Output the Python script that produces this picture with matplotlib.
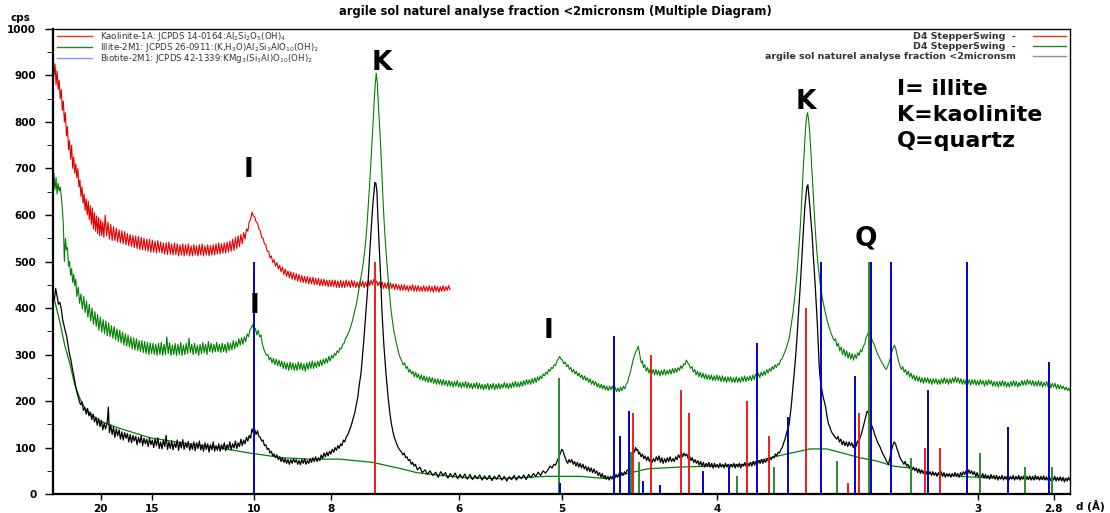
# XRD multiple diagram - argile sol naturel, fraction <2 microns
# x axis is linear in 2theta (Cu Ka), labelled with d-spacings

import numpy as np
import matplotlib.pyplot as plt

plt.rcParams['font.family'] = ['DejaVu Sans']
plt.rcParams['mathtext.default'] = 'regular'

WAVELENGTH = 1.5406  # Cu K-alpha, Angstrom

# ---- data: (2theta deg, cps) ----

# red pattern (stops at ~14.5 deg)
red_pts = [
    (3.03, 940), (3.06, 900), (3.09, 925), (3.12, 880), (3.15, 910), (3.18, 870), (3.21, 890),
    (3.24, 850), (3.27, 870), (3.30, 825), (3.33, 845), (3.36, 800), (3.39, 820), (3.42, 770),
    (3.45, 790), (3.48, 740), (3.51, 760), (3.54, 720), (3.57, 750), (3.60, 700), (3.63, 725),
    (3.66, 690), (3.69, 710), (3.72, 680), (3.75, 700), (3.78, 660), (3.81, 675), (3.84, 640),
    (3.87, 660), (3.90, 625), (3.93, 645), (3.96, 610), (3.99, 635), (4.02, 600), (4.05, 630),
    (4.08, 590), (4.11, 620), (4.14, 580), (4.17, 615), (4.20, 570), (4.23, 605), (4.26, 565),
    (4.29, 598), (4.32, 560), (4.35, 595), (4.38, 555), (4.41, 590), (4.44, 556), (4.47, 585),
    (4.50, 552), (4.54, 600), (4.58, 555), (4.62, 585), (4.66, 548), (4.70, 580), (4.74, 545),
    (4.78, 575), (4.82, 545), (4.86, 572), (4.90, 542), (4.94, 568), (4.98, 540), (5.02, 566),
    (5.06, 538), (5.10, 564), (5.14, 536), (5.18, 560), (5.22, 534), (5.26, 558), (5.30, 532),
    (5.34, 556), (5.38, 530), (5.42, 555), (5.46, 528), (5.50, 554), (5.54, 526), (5.58, 552),
    (5.62, 525), (5.66, 550), (5.70, 524), (5.74, 548), (5.78, 522), (5.82, 548), (5.86, 520),
    (5.90, 546), (5.94, 520), (5.98, 544), (6.02, 518), (6.06, 545), (6.10, 520), (6.14, 542),
    (6.18, 518), (6.22, 540), (6.26, 516), (6.30, 540), (6.34, 515), (6.38, 542), (6.42, 516),
    (6.46, 538), (6.50, 514), (6.54, 540), (6.58, 515), (6.62, 538), (6.66, 512), (6.70, 536),
    (6.74, 514), (6.78, 538), (6.82, 512), (6.86, 536), (6.90, 514), (6.94, 538), (6.98, 512),
    (7.02, 534), (7.06, 512), (7.10, 536), (7.14, 514), (7.18, 534), (7.22, 512), (7.26, 536),
    (7.30, 514), (7.34, 538), (7.38, 512), (7.42, 534), (7.46, 514), (7.50, 536), (7.54, 512),
    (7.58, 534), (7.62, 514), (7.66, 536), (7.70, 514), (7.74, 538), (7.78, 516), (7.82, 540),
    (7.86, 516), (7.90, 538), (7.94, 518), (7.98, 540), (8.02, 518), (8.06, 542), (8.10, 520),
    (8.14, 544), (8.18, 522), (8.22, 548), (8.26, 524), (8.30, 552), (8.34, 528), (8.38, 555),
    (8.42, 532), (8.46, 558), (8.50, 538), (8.54, 562), (8.58, 548), (8.62, 570), (8.66, 565),
    (8.70, 585), (8.74, 590), (8.78, 606), (8.82, 598), (8.86, 596), (8.90, 585), (8.94, 582),
    (8.98, 570), (9.02, 566), (9.06, 552), (9.10, 550), (9.14, 538), (9.18, 536), (9.22, 522),
    (9.26, 522), (9.30, 508), (9.34, 512), (9.38, 498), (9.42, 504), (9.46, 490), (9.50, 498),
    (9.54, 484), (9.58, 492), (9.62, 478), (9.66, 488), (9.70, 472), (9.74, 484), (9.78, 468),
    (9.82, 480), (9.86, 465), (9.90, 478), (9.94, 462), (9.98, 476), (10.02, 460), (10.06, 474),
    (10.10, 458), (10.14, 472), (10.18, 456), (10.22, 470), (10.26, 455), (10.30, 468),
    (10.34, 454), (10.38, 468), (10.42, 452), (10.46, 466), (10.50, 452), (10.54, 466),
    (10.58, 450), (10.62, 464), (10.66, 450), (10.70, 464), (10.74, 448), (10.78, 462),
    (10.82, 448), (10.86, 462), (10.90, 448), (10.94, 460), (10.98, 446), (11.02, 460),
    (11.06, 446), (11.10, 460), (11.14, 446), (11.18, 460), (11.22, 444), (11.26, 458),
    (11.30, 444), (11.34, 460), (11.38, 444), (11.42, 458), (11.46, 444), (11.50, 460),
    (11.54, 446), (11.58, 458), (11.62, 444), (11.66, 460), (11.70, 446), (11.74, 458),
    (11.78, 444), (11.82, 456), (11.86, 444), (11.90, 458), (11.94, 446), (11.98, 458),
    (12.02, 444), (12.06, 456), (12.10, 446), (12.14, 460), (12.18, 448), (12.22, 460),
    (12.26, 450), (12.30, 462), (12.34, 452), (12.38, 458), (12.42, 448), (12.46, 456),
    (12.50, 444), (12.54, 456), (12.58, 442), (12.62, 454), (12.66, 442), (12.70, 454),
    (12.74, 440), (12.78, 454), (12.82, 442), (12.86, 452), (12.90, 440), (12.94, 452),
    (12.98, 440), (13.02, 450), (13.06, 438), (13.10, 450), (13.14, 438), (13.18, 450),
    (13.22, 438), (13.26, 448), (13.30, 436), (13.34, 448), (13.38, 438), (13.42, 450),
    (13.46, 436), (13.50, 448), (13.54, 436), (13.58, 448), (13.62, 436), (13.66, 446),
    (13.70, 436), (13.74, 448), (13.78, 436), (13.82, 446), (13.86, 436), (13.90, 448),
    (13.94, 436), (13.98, 446), (14.02, 434), (14.06, 448), (14.10, 436), (14.14, 446),
    (14.18, 434), (14.22, 446), (14.26, 436), (14.30, 448), (14.34, 436), (14.38, 446),
    (14.42, 438), (14.46, 448), (14.50, 440),
]

# green pattern (offset run)
green_pts = [
    (3.03, 620), (3.06, 690), (3.09, 655), (3.12, 680), (3.15, 645), (3.18, 668), (3.21, 652),
    (3.24, 660), (3.27, 640), (3.30, 615), (3.33, 580), (3.36, 500), (3.39, 550), (3.42, 525),
    (3.45, 530), (3.48, 490), (3.51, 500), (3.54, 470), (3.57, 485), (3.60, 455), (3.63, 472),
    (3.66, 448), (3.69, 462), (3.72, 425), (3.76, 445), (3.80, 410), (3.84, 430), (3.88, 398),
    (3.92, 425), (3.96, 390), (4.00, 415), (4.04, 380), (4.08, 408), (4.12, 372), (4.16, 400),
    (4.20, 365), (4.24, 392), (4.28, 360), (4.32, 386), (4.36, 352), (4.40, 380), (4.44, 348),
    (4.48, 375), (4.52, 345), (4.56, 372), (4.60, 340), (4.64, 368), (4.68, 338), (4.72, 362),
    (4.76, 335), (4.80, 360), (4.84, 332), (4.88, 355), (4.92, 328), (4.96, 352), (5.00, 325),
    (5.04, 348), (5.08, 320), (5.12, 345), (5.16, 318), (5.20, 342), (5.24, 316), (5.28, 338),
    (5.32, 312), (5.36, 336), (5.40, 310), (5.44, 334), (5.48, 308), (5.52, 330), (5.56, 306),
    (5.60, 330), (5.64, 304), (5.68, 328), (5.72, 302), (5.76, 326), (5.80, 300), (5.84, 325),
    (5.88, 302), (5.92, 324), (5.96, 300), (6.00, 322), (6.04, 298), (6.08, 324), (6.12, 300),
    (6.16, 326), (6.20, 298), (6.24, 322), (6.28, 300), (6.32, 338), (6.36, 302), (6.40, 325),
    (6.44, 298), (6.48, 320), (6.52, 300), (6.56, 324), (6.60, 298), (6.64, 322), (6.68, 300),
    (6.72, 326), (6.76, 298), (6.80, 320), (6.84, 300), (6.88, 324), (6.92, 302), (6.96, 335),
    (7.00, 304), (7.04, 322), (7.08, 300), (7.12, 324), (7.16, 302), (7.20, 320), (7.24, 298),
    (7.28, 322), (7.32, 302), (7.36, 326), (7.40, 304), (7.44, 322), (7.48, 300), (7.52, 328),
    (7.56, 306), (7.60, 324), (7.64, 304), (7.68, 322), (7.72, 306), (7.76, 326), (7.80, 306),
    (7.84, 322), (7.88, 304), (7.92, 324), (7.96, 306), (8.00, 322), (8.04, 304), (8.08, 326),
    (8.12, 308), (8.16, 324), (8.20, 310), (8.24, 330), (8.28, 312), (8.32, 328), (8.36, 316),
    (8.40, 334), (8.44, 320), (8.48, 336), (8.52, 322), (8.56, 338), (8.60, 328), (8.64, 344),
    (8.68, 338), (8.72, 352), (8.76, 358), (8.80, 364), (8.84, 350), (8.88, 356), (8.92, 342),
    (8.96, 352), (9.00, 338), (9.04, 342), (9.08, 322), (9.12, 312), (9.16, 304), (9.20, 298),
    (9.24, 300), (9.28, 288), (9.32, 294), (9.36, 282), (9.40, 292), (9.44, 278), (9.48, 290),
    (9.52, 276), (9.56, 288), (9.60, 274), (9.64, 286), (9.68, 270), (9.72, 284), (9.76, 268),
    (9.80, 282), (9.84, 266), (9.88, 284), (9.92, 268), (9.96, 282), (10.00, 266),
    (10.04, 280), (10.08, 266), (10.12, 284), (10.16, 268), (10.20, 282), (10.24, 266),
    (10.28, 280), (10.32, 264), (10.36, 282), (10.40, 268), (10.44, 284), (10.48, 270),
    (10.52, 286), (10.56, 270), (10.60, 284), (10.64, 272), (10.68, 286), (10.72, 274),
    (10.76, 288), (10.80, 276), (10.84, 290), (10.88, 280), (10.92, 292), (10.96, 282),
    (11.00, 296), (11.04, 286), (11.08, 298), (11.12, 292), (11.16, 302), (11.20, 298),
    (11.24, 308), (11.28, 304), (11.32, 314), (11.36, 312), (11.40, 322), (11.44, 324),
    (11.48, 334), (11.52, 338), (11.56, 346), (11.60, 352), (11.64, 362), (11.68, 372),
    (11.72, 385), (11.76, 398), (11.80, 410), (11.84, 428), (11.88, 445), (11.92, 462),
    (11.96, 480), (12.00, 500), (12.04, 525), (12.07, 548), (12.10, 575), (12.13, 610),
    (12.16, 645), (12.19, 680), (12.22, 720), (12.25, 760), (12.28, 800), (12.31, 845),
    (12.34, 880), (12.37, 905), (12.40, 885), (12.43, 840), (12.46, 800), (12.49, 760),
    (12.52, 710), (12.55, 660), (12.58, 610), (12.61, 570), (12.64, 535), (12.67, 505),
    (12.70, 475), (12.73, 450), (12.76, 425), (12.79, 400), (12.82, 382), (12.85, 365),
    (12.88, 350), (12.91, 340), (12.95, 325), (12.99, 312), (13.03, 300), (13.07, 292),
    (13.11, 285), (13.15, 278), (13.19, 282), (13.23, 270), (13.27, 274), (13.31, 262),
    (13.35, 268), (13.39, 258), (13.43, 264), (13.47, 252), (13.51, 262), (13.55, 250),
    (13.59, 258), (13.63, 246), (13.67, 256), (13.71, 244), (13.75, 254), (13.79, 242),
    (13.83, 252), (13.87, 240), (13.91, 252), (13.95, 240), (13.99, 250), (14.03, 238),
    (14.07, 248), (14.11, 236), (14.15, 248), (14.19, 236), (14.23, 246), (14.27, 234),
    (14.31, 246), (14.35, 234), (14.39, 244), (14.43, 232), (14.47, 244), (14.51, 232),
    (14.55, 242), (14.59, 230), (14.63, 242), (14.67, 232), (14.71, 244), (14.75, 230),
    (14.79, 240), (14.83, 228), (14.87, 240), (14.91, 230), (14.95, 242), (14.99, 228),
    (15.03, 240), (15.07, 228), (15.11, 238), (15.15, 226), (15.19, 238), (15.23, 228),
    (15.27, 240), (15.31, 226), (15.35, 238), (15.39, 226), (15.43, 236), (15.47, 224),
    (15.51, 236), (15.55, 226), (15.59, 238), (15.63, 224), (15.67, 236), (15.71, 226),
    (15.75, 238), (15.79, 224), (15.83, 236), (15.87, 226), (15.91, 238), (15.95, 226),
    (15.99, 236), (16.03, 228), (16.07, 240), (16.11, 228), (16.15, 238), (16.19, 226),
    (16.23, 238), (16.27, 228), (16.31, 240), (16.35, 230), (16.39, 242), (16.43, 230),
    (16.47, 240), (16.51, 230), (16.55, 242), (16.59, 232), (16.63, 244), (16.67, 234),
    (16.71, 246), (16.75, 236), (16.79, 246), (16.83, 236), (16.87, 248), (16.91, 238),
    (16.95, 250), (16.99, 240), (17.03, 252), (17.07, 244), (17.11, 254), (17.15, 248),
    (17.19, 258), (17.23, 254), (17.27, 262), (17.31, 258), (17.35, 268), (17.39, 264),
    (17.43, 272), (17.47, 270), (17.51, 278), (17.55, 276), (17.59, 286), (17.63, 290),
    (17.67, 296), (17.71, 290), (17.75, 288), (17.79, 280), (17.83, 284), (17.87, 274),
    (17.91, 278), (17.95, 268), (17.99, 272), (18.03, 262), (18.07, 268), (18.11, 258),
    (18.15, 264), (18.19, 254), (18.23, 260), (18.27, 250), (18.31, 256), (18.35, 246),
    (18.39, 254), (18.43, 244), (18.47, 250), (18.51, 240), (18.55, 248), (18.59, 236),
    (18.63, 244), (18.67, 234), (18.71, 242), (18.75, 230), (18.79, 238), (18.83, 228),
    (18.87, 236), (18.91, 226), (18.95, 234), (18.99, 224), (19.03, 232), (19.07, 222),
    (19.11, 232), (19.15, 224), (19.19, 232), (19.23, 222), (19.27, 230), (19.31, 220),
    (19.35, 228), (19.39, 220), (19.43, 230), (19.47, 222), (19.51, 232), (19.55, 226),
    (19.59, 236), (19.63, 240), (19.67, 252), (19.71, 262), (19.75, 275), (19.79, 288),
    (19.83, 298), (19.87, 306), (19.91, 312), (19.94, 318), (19.97, 305), (20.00, 292),
    (20.03, 282), (20.06, 286), (20.09, 272), (20.13, 278), (20.17, 264), (20.21, 272),
    (20.25, 260), (20.29, 270), (20.33, 258), (20.37, 268), (20.41, 256), (20.45, 268),
    (20.49, 256), (20.53, 266), (20.57, 254), (20.61, 266), (20.65, 256), (20.69, 268),
    (20.73, 256), (20.77, 266), (20.81, 258), (20.85, 268), (20.89, 258), (20.93, 270),
    (20.97, 260), (21.01, 270), (21.05, 262), (21.09, 272), (21.13, 266), (21.17, 276),
    (21.21, 270), (21.25, 280), (21.29, 278), (21.33, 288), (21.37, 282), (21.41, 278),
    (21.45, 270), (21.49, 274), (21.53, 262), (21.57, 268), (21.61, 256), (21.65, 264),
    (21.69, 252), (21.73, 262), (21.77, 250), (21.81, 260), (21.85, 248), (21.89, 258),
    (21.93, 246), (21.97, 256), (22.01, 246), (22.05, 256), (22.09, 244), (22.13, 254),
    (22.17, 244), (22.21, 256), (22.25, 244), (22.29, 254), (22.33, 242), (22.37, 254),
    (22.41, 242), (22.45, 252), (22.49, 240), (22.53, 252), (22.57, 242), (22.61, 252),
    (22.65, 240), (22.69, 250), (22.73, 240), (22.77, 252), (22.81, 240), (22.85, 250),
    (22.89, 240), (22.93, 252), (22.97, 242), (23.01, 254), (23.05, 242), (23.09, 252),
    (23.13, 244), (23.17, 254), (23.21, 244), (23.25, 256), (23.29, 246), (23.33, 258),
    (23.37, 248), (23.41, 260), (23.45, 250), (23.49, 262), (23.53, 254), (23.57, 264),
    (23.61, 256), (23.65, 268), (23.69, 260), (23.73, 270), (23.77, 264), (23.81, 274),
    (23.85, 268), (23.89, 278), (23.93, 272), (23.97, 280), (24.01, 278), (24.05, 288),
    (24.09, 290), (24.13, 298), (24.17, 305), (24.21, 312), (24.25, 322), (24.29, 332),
    (24.32, 345), (24.35, 360), (24.38, 375), (24.41, 390), (24.44, 410), (24.47, 430),
    (24.50, 455), (24.53, 480), (24.56, 510), (24.59, 540), (24.62, 575), (24.65, 615),
    (24.68, 660), (24.71, 705), (24.74, 745), (24.77, 785), (24.80, 810), (24.83, 820),
    (24.86, 805), (24.89, 780), (24.92, 745), (24.95, 705), (24.98, 665), (25.01, 625),
    (25.04, 585), (25.07, 550), (25.10, 520), (25.13, 495), (25.16, 475), (25.19, 455),
    (25.22, 440), (25.25, 425), (25.28, 412), (25.32, 398), (25.36, 385), (25.40, 372),
    (25.44, 362), (25.48, 352), (25.52, 344), (25.56, 336), (25.60, 330), (25.64, 334),
    (25.68, 318), (25.72, 324), (25.76, 308), (25.80, 316), (25.84, 300), (25.88, 312),
    (25.92, 296), (25.96, 308), (26.00, 292), (26.04, 304), (26.08, 290), (26.12, 302),
    (26.16, 288), (26.20, 300), (26.24, 292), (26.28, 304), (26.32, 298), (26.36, 310),
    (26.40, 306), (26.44, 318), (26.48, 322), (26.52, 336), (26.56, 342), (26.60, 350),
    (26.63, 346), (26.66, 338), (26.70, 330), (26.74, 324), (26.78, 316), (26.82, 308),
    (26.86, 300), (26.90, 294), (26.94, 288), (26.98, 282), (27.02, 278), (27.06, 272),
    (27.10, 268), (27.14, 274), (27.18, 282), (27.22, 292), (27.26, 304), (27.30, 314),
    (27.34, 320), (27.38, 312), (27.42, 298), (27.46, 286), (27.50, 276), (27.54, 268),
    (27.58, 274), (27.62, 262), (27.66, 268), (27.70, 256), (27.74, 264), (27.78, 252),
    (27.82, 260), (27.86, 248), (27.90, 256), (27.94, 244), (27.98, 254), (28.02, 242),
    (28.06, 252), (28.10, 240), (28.14, 250), (28.18, 238), (28.22, 250), (28.26, 240),
    (28.30, 250), (28.34, 238), (28.38, 248), (28.42, 236), (28.46, 248), (28.50, 238),
    (28.54, 248), (28.58, 236), (28.62, 246), (28.66, 236), (28.70, 248), (28.74, 238),
    (28.78, 250), (28.82, 238), (28.86, 248), (28.90, 236), (28.94, 248), (28.98, 238),
    (29.02, 250), (29.06, 240), (29.10, 252), (29.14, 240), (29.18, 250), (29.22, 238),
    (29.26, 248), (29.30, 236), (29.34, 246), (29.38, 236), (29.42, 248), (29.46, 236),
    (29.50, 246), (29.54, 234), (29.58, 246), (29.62, 236), (29.66, 246), (29.70, 234),
    (29.74, 244), (29.78, 234), (29.82, 246), (29.86, 236), (29.90, 244), (29.94, 232),
    (29.98, 244), (30.02, 234), (30.06, 246), (30.10, 236), (30.14, 244), (30.18, 232),
    (30.22, 242), (30.26, 232), (30.30, 242), (30.34, 230), (30.38, 242), (30.42, 232),
    (30.46, 244), (30.50, 232), (30.54, 242), (30.58, 230), (30.62, 240), (30.66, 230),
    (30.70, 242), (30.74, 232), (30.78, 244), (30.82, 232), (30.86, 242), (30.90, 230),
    (30.94, 240), (30.98, 232), (31.02, 244), (31.06, 234), (31.10, 244), (31.14, 234),
    (31.18, 246), (31.22, 236), (31.26, 244), (31.30, 234), (31.34, 244), (31.38, 232),
    (31.42, 242), (31.46, 232), (31.50, 244), (31.54, 232), (31.58, 242), (31.62, 230),
    (31.66, 240), (31.70, 232), (31.74, 242), (31.78, 230), (31.82, 240), (31.86, 228),
    (31.90, 238), (31.94, 230), (31.98, 238), (32.02, 226), (32.06, 236), (32.10, 226),
    (32.14, 234), (32.18, 226), (32.22, 232), (32.26, 224), (32.30, 230), (32.34, 222),
    (32.38, 228), (32.41, 222),
]

# black pattern: argile sol naturel analyse fraction <2micronsm
sample_pts = [
    (3.03, 430), (3.07, 418), (3.11, 442), (3.15, 425), (3.19, 408), (3.23, 412), (3.27, 398),
    (3.31, 375), (3.35, 362), (3.39, 350), (3.43, 338), (3.47, 318), (3.51, 300), (3.55, 288),
    (3.59, 270), (3.63, 255), (3.67, 238), (3.71, 222), (3.75, 212), (3.79, 200), (3.83, 192),
    (3.87, 198), (3.91, 180), (3.95, 186), (3.99, 172), (4.03, 184), (4.07, 168), (4.11, 176),
    (4.15, 160), (4.19, 172), (4.23, 155), (4.27, 165), (4.31, 148), (4.35, 162), (4.39, 145),
    (4.43, 158), (4.47, 138), (4.51, 152), (4.55, 140), (4.60, 155), (4.63, 187), (4.66, 132),
    (4.70, 148), (4.74, 128), (4.78, 144), (4.82, 122), (4.86, 140), (4.90, 125), (4.94, 138),
    (4.98, 118), (5.02, 134), (5.06, 116), (5.10, 132), (5.14, 120), (5.18, 130), (5.22, 112),
    (5.26, 128), (5.30, 110), (5.34, 126), (5.38, 114), (5.42, 124), (5.46, 106), (5.50, 122),
    (5.54, 110), (5.58, 125), (5.62, 104), (5.66, 120), (5.70, 108), (5.74, 118), (5.78, 102),
    (5.82, 120), (5.86, 106), (5.90, 116), (5.94, 100), (5.98, 118), (6.02, 104), (6.06, 121),
    (6.10, 98), (6.14, 112), (6.18, 97), (6.22, 116), (6.26, 102), (6.30, 126), (6.34, 96),
    (6.38, 112), (6.42, 98), (6.46, 114), (6.50, 95), (6.54, 110), (6.58, 100), (6.62, 116),
    (6.66, 94), (6.70, 112), (6.74, 99), (6.78, 117), (6.82, 96), (6.86, 110), (6.90, 100),
    (6.94, 113), (6.98, 94), (7.02, 108), (7.06, 96), (7.10, 112), (7.14, 93), (7.18, 110),
    (7.22, 98), (7.26, 114), (7.30, 95), (7.34, 106), (7.38, 92), (7.42, 110), (7.46, 96),
    (7.50, 108), (7.54, 90), (7.58, 106), (7.62, 95), (7.66, 112), (7.70, 92), (7.74, 104),
    (7.78, 94), (7.82, 108), (7.86, 92), (7.90, 106), (7.94, 96), (7.98, 110), (8.02, 93),
    (8.06, 106), (8.10, 97), (8.14, 112), (8.18, 95), (8.22, 108), (8.26, 99), (8.30, 114),
    (8.34, 98), (8.38, 110), (8.42, 102), (8.46, 118), (8.50, 104), (8.54, 116), (8.58, 108),
    (8.62, 122), (8.66, 114), (8.70, 126), (8.74, 120), (8.78, 140), (8.82, 132), (8.86, 138),
    (8.90, 128), (8.94, 136), (8.98, 124), (9.02, 122), (9.06, 114), (9.10, 116), (9.14, 104),
    (9.18, 106), (9.22, 96), (9.26, 98), (9.30, 88), (9.34, 92), (9.38, 82), (9.42, 86),
    (9.46, 78), (9.50, 84), (9.54, 74), (9.58, 80), (9.62, 70), (9.66, 78), (9.70, 68),
    (9.74, 76), (9.78, 66), (9.82, 74), (9.86, 64), (9.90, 74), (9.94, 66), (9.98, 76),
    (10.02, 68), (10.06, 74), (10.10, 64), (10.14, 72), (10.18, 63), (10.22, 74), (10.26, 66),
    (10.30, 76), (10.34, 64), (10.38, 72), (10.42, 66), (10.46, 76), (10.50, 68), (10.54, 78),
    (10.58, 70), (10.62, 80), (10.66, 70), (10.70, 78), (10.74, 72), (10.78, 84), (10.82, 76),
    (10.86, 88), (10.90, 80), (10.94, 90), (10.98, 82), (11.02, 92), (11.06, 86), (11.10, 96),
    (11.14, 90), (11.18, 100), (11.22, 94), (11.26, 104), (11.30, 98), (11.34, 108),
    (11.38, 104), (11.42, 116), (11.46, 112), (11.50, 122), (11.55, 128), (11.60, 138),
    (11.65, 148), (11.70, 162), (11.75, 175), (11.80, 195), (11.84, 210), (11.88, 235),
    (11.93, 260), (11.97, 295), (12.01, 330), (12.04, 360), (12.07, 390), (12.10, 420),
    (12.13, 450), (12.16, 490), (12.19, 530), (12.22, 565), (12.25, 600), (12.28, 630),
    (12.31, 655), (12.33, 670), (12.36, 668), (12.39, 650), (12.42, 590), (12.45, 540),
    (12.48, 490), (12.51, 445), (12.53, 400), (12.56, 360), (12.59, 320), (12.62, 290),
    (12.65, 260), (12.68, 235), (12.71, 210), (12.74, 190), (12.77, 170), (12.81, 150),
    (12.85, 135), (12.89, 122), (12.94, 112), (12.98, 104), (13.02, 98), (13.06, 94),
    (13.10, 90), (13.14, 84), (13.18, 88), (13.22, 78), (13.26, 80), (13.30, 72), (13.34, 74),
    (13.38, 64), (13.42, 68), (13.46, 60), (13.50, 64), (13.56, 52), (13.63, 58), (13.70, 46),
    (13.78, 52), (13.85, 42), (13.92, 50), (14.00, 40), (14.09, 47), (14.16, 36), (14.23, 48),
    (14.30, 40), (14.37, 46), (14.44, 34), (14.51, 44), (14.58, 36), (14.65, 45), (14.72, 33),
    (14.79, 42), (14.86, 34), (14.93, 43), (15.00, 32), (15.08, 42), (15.15, 31), (15.22, 40),
    (15.29, 33), (15.36, 41), (15.43, 30), (15.50, 39), (15.57, 31), (15.64, 40), (15.71, 29),
    (15.78, 38), (15.85, 32), (15.92, 41), (16.00, 30), (16.07, 38), (16.14, 28), (16.21, 37),
    (16.28, 31), (16.35, 40), (16.42, 30), (16.49, 39), (16.56, 33), (16.63, 41), (16.70, 31),
    (16.77, 42), (16.84, 35), (16.91, 44), (16.98, 38), (17.05, 47), (17.12, 40), (17.19, 50),
    (17.26, 45), (17.33, 52), (17.39, 60), (17.45, 56), (17.50, 64), (17.55, 62), (17.60, 72),
    (17.65, 80), (17.70, 90), (17.73, 96), (17.76, 94), (17.79, 86), (17.82, 80), (17.86, 72),
    (17.90, 66), (17.94, 74), (17.98, 68), (18.02, 74), (18.06, 64), (18.10, 70), (18.14, 60),
    (18.18, 68), (18.22, 58), (18.26, 66), (18.30, 56), (18.34, 64), (18.38, 54), (18.42, 60),
    (18.46, 50), (18.50, 58), (18.54, 48), (18.58, 56), (18.62, 46), (18.66, 54), (18.70, 44),
    (18.74, 50), (18.78, 40), (18.82, 46), (18.86, 36), (18.90, 44), (18.94, 34), (18.98, 40),
    (19.02, 32), (19.06, 38), (19.10, 30), (19.14, 38), (19.18, 32), (19.22, 40), (19.26, 34),
    (19.30, 42), (19.34, 36), (19.38, 44), (19.42, 38), (19.46, 46), (19.50, 40), (19.54, 48),
    (19.58, 44), (19.62, 52), (19.66, 50), (19.70, 60), (19.74, 72), (19.77, 86), (19.80, 95),
    (19.83, 90), (19.86, 100), (19.89, 94), (19.92, 96), (19.95, 86), (19.98, 90), (20.02, 80),
    (20.06, 86), (20.10, 76), (20.14, 82), (20.18, 72), (20.22, 80), (20.26, 70), (20.30, 78),
    (20.34, 68), (20.38, 76), (20.42, 70), (20.46, 80), (20.50, 72), (20.54, 82), (20.58, 68),
    (20.62, 78), (20.66, 66), (20.70, 76), (20.74, 68), (20.78, 78), (20.82, 70), (20.86, 80),
    (20.90, 70), (20.94, 76), (20.98, 70), (21.02, 80), (21.06, 74), (21.10, 84), (21.14, 78),
    (21.18, 90), (21.22, 80), (21.26, 88), (21.30, 82), (21.34, 86), (21.38, 76), (21.42, 82),
    (21.46, 72), (21.50, 78), (21.54, 68), (21.58, 74), (21.62, 66), (21.66, 72), (21.70, 62),
    (21.74, 70), (21.78, 60), (21.82, 68), (21.86, 58), (21.90, 66), (21.94, 60), (21.98, 68),
    (22.02, 58), (22.06, 66), (22.10, 56), (22.14, 66), (22.18, 58), (22.22, 64), (22.26, 56),
    (22.30, 66), (22.34, 58), (22.38, 64), (22.42, 56), (22.46, 66), (22.50, 58), (22.54, 64),
    (22.58, 56), (22.62, 64), (22.66, 58), (22.70, 66), (22.74, 56), (22.78, 64), (22.82, 58),
    (22.86, 66), (22.90, 56), (22.94, 64), (22.98, 60), (23.02, 68), (23.06, 58), (23.10, 66),
    (23.14, 60), (23.18, 68), (23.22, 60), (23.26, 70), (23.30, 62), (23.34, 70), (23.38, 64),
    (23.42, 72), (23.46, 66), (23.50, 74), (23.54, 66), (23.58, 74), (23.62, 68), (23.66, 76),
    (23.70, 70), (23.74, 78), (23.78, 74), (23.82, 80), (23.86, 78), (23.90, 86), (23.94, 82),
    (23.98, 90), (24.02, 88), (24.06, 96), (24.10, 100), (24.14, 110), (24.18, 118),
    (24.22, 130), (24.26, 140), (24.30, 150), (24.33, 170), (24.36, 190), (24.39, 215),
    (24.42, 240), (24.45, 265), (24.48, 290), (24.51, 320), (24.54, 355), (24.57, 390),
    (24.60, 425), (24.63, 460), (24.66, 500), (24.69, 540), (24.72, 580), (24.75, 615),
    (24.78, 640), (24.81, 660), (24.84, 665), (24.87, 640), (24.90, 615), (24.93, 585),
    (24.96, 560), (24.99, 520), (25.02, 485), (25.05, 450), (25.08, 410), (25.11, 370),
    (25.14, 320), (25.17, 270), (25.20, 245), (25.23, 230), (25.27, 212), (25.31, 200),
    (25.35, 188), (25.39, 168), (25.43, 152), (25.47, 145), (25.51, 136), (25.55, 130),
    (25.59, 126), (25.63, 122), (25.67, 118), (25.71, 124), (25.75, 112), (25.79, 118),
    (25.83, 106), (25.87, 114), (25.91, 104), (25.95, 112), (25.99, 102), (26.03, 112),
    (26.07, 104), (26.11, 110), (26.15, 100), (26.19, 108), (26.23, 102), (26.27, 114),
    (26.31, 110), (26.35, 122), (26.39, 130), (26.43, 142), (26.47, 154), (26.51, 166),
    (26.55, 178), (26.58, 176), (26.61, 170), (26.64, 160), (26.67, 150), (26.70, 144),
    (26.73, 138), (26.77, 128), (26.81, 120), (26.85, 112), (26.89, 106), (26.93, 100),
    (26.97, 92), (27.01, 86), (27.05, 80), (27.09, 74), (27.13, 68), (27.17, 64), (27.21, 78),
    (27.25, 92), (27.29, 104), (27.33, 112), (27.37, 108), (27.41, 98), (27.45, 90),
    (27.49, 80), (27.53, 74), (27.57, 70), (27.61, 64), (27.65, 70), (27.69, 60), (27.73, 64),
    (27.77, 56), (27.81, 62), (27.85, 52), (27.89, 58), (27.93, 50), (27.97, 56), (28.01, 46),
    (28.05, 54), (28.09, 44), (28.13, 52), (28.17, 44), (28.21, 50), (28.25, 42), (28.29, 50),
    (28.33, 42), (28.37, 48), (28.41, 40), (28.45, 48), (28.49, 40), (28.53, 46), (28.57, 38),
    (28.61, 46), (28.65, 40), (28.69, 48), (28.73, 38), (28.77, 46), (28.81, 36), (28.85, 44),
    (28.89, 38), (28.93, 44), (28.97, 36), (29.01, 44), (29.05, 38), (29.09, 46), (29.13, 38),
    (29.17, 44), (29.21, 36), (29.25, 46), (29.29, 40), (29.33, 48), (29.37, 42), (29.41, 50),
    (29.45, 42), (29.49, 52), (29.53, 44), (29.57, 50), (29.61, 42), (29.65, 48), (29.69, 38),
    (29.73, 46), (29.77, 36), (29.81, 44), (29.85, 36), (29.89, 44), (29.93, 34), (29.97, 42),
    (30.01, 34), (30.05, 40), (30.09, 32), (30.13, 42), (30.17, 34), (30.21, 40), (30.25, 32),
    (30.29, 40), (30.33, 30), (30.37, 38), (30.41, 32), (30.45, 40), (30.49, 30), (30.53, 38),
    (30.57, 32), (30.61, 40), (30.65, 30), (30.69, 38), (30.73, 32), (30.77, 40), (30.81, 30),
    (30.85, 38), (30.89, 32), (30.93, 40), (30.97, 30), (31.01, 38), (31.05, 32), (31.09, 40),
    (31.13, 30), (31.17, 38), (31.21, 31), (31.25, 39), (31.29, 30), (31.33, 38), (31.37, 30),
    (31.41, 40), (31.45, 32), (31.49, 38), (31.53, 30), (31.57, 38), (31.61, 31), (31.65, 39),
    (31.69, 30), (31.73, 37), (31.77, 30), (31.81, 38), (31.85, 29), (31.89, 37), (31.93, 30),
    (31.97, 38), (32.01, 28), (32.05, 36), (32.09, 29), (32.13, 37), (32.17, 28), (32.21, 36),
    (32.25, 26), (32.29, 34), (32.33, 28), (32.37, 36), (32.41, 30),
]

# fitted background under the black pattern
bg_pts = [
    (3.03, 431), (3.23, 370), (3.37, 320), (3.52, 280), (3.66, 235), (3.81, 205), (3.95, 185),
    (4.15, 170), (4.39, 157), (4.88, 143), (5.83, 121), (6.78, 110), (7.77, 100), (8.72, 88),
    (9.67, 78), (10.45, 75), (11.32, 75), (12.27, 68), (13.05, 55), (13.54, 46), (14.21, 40),
    (14.99, 35), (15.94, 33), (17.30, 38), (18.25, 38), (19.03, 33), (19.41, 40), (20.19, 54),
    (21.14, 58), (22.10, 60), (23.08, 64), (23.74, 78), (24.23, 86), (24.90, 97), (25.39, 97),
    (25.85, 88), (26.34, 78), (26.83, 71), (27.30, 60), (27.79, 56), (28.45, 43), (29.43, 37),
    (30.39, 34), (32.41, 32),
]

# reference stick patterns (2theta, cps)
kaolinite_tt = [12.33, 19.78, 20.30, 21.16, 21.41, 23.07, 23.71, 24.79, 25.99,
                26.32, 28.21, 28.66]
kaolinite_h = [500, 175, 300, 224, 175, 200, 125, 400, 24, 175, 99, 99]

illite_tt = [17.65, 19.74, 19.95, 22.79, 23.85, 25.68, 26.60, 27.82, 29.81,
             31.11, 31.89]
illite_h = [250, 90, 68, 39, 58, 70, 500, 78, 88, 58, 58]

biotite_tt = [8.84, 17.68, 19.24, 19.41, 19.67, 20.08, 20.57, 21.81, 22.56,
              23.37, 24.26, 25.21, 26.20, 26.65, 27.23, 28.32, 29.45, 30.63,
              31.81]
biotite_h = [500, 23, 340, 125, 179, 28, 19, 50, 58, 325, 165, 500, 254, 500,
             500, 224, 500, 144, 284]

d_ticks = [20, 15, 10, 8, 6, 5, 4, 3, 2.8]
d_labels = ['20', '15', '10', '8', '6', '5', '4', '3', '2.8']

legend_refs = [
    ('Kaolinite-1A: JCPDS 14-0164:Al$_2$Si$_2$O$_5$(OH)$_4$', '#e83030'),
    ('Illite-2M1: JCPDS 26-0911:(K,H$_3$O)Al$_2$Si$_3$AlO$_{10}$(OH)$_2$', '#1a8c1a'),
    ('Biotite-2M1: JCPDS 42-1339:KMg$_3$(Si$_3$Al)O$_{10}$(OH)$_2$', '#8c8cff'),
]
legend_runs = [
    ('D4 StepperSwing  -', '#e83030'),
    ('D4 StepperSwing  -', '#1a8c1a'),
    ('argile sol naturel analyse fraction <2micronsm', '#909090'),
]


def d_to_2theta(d):
    return 2 * np.degrees(np.arcsin(WAVELENGTH / (2 * np.asarray(d, dtype=float))))


def unzip(pts):
    tt, cps = zip(*pts)
    return list(tt), list(cps)


fig = plt.figure(figsize=(11.1, 5.13), dpi=100)
ax = fig.add_axes([0.0477, 0.037, 0.9162, 0.9065])

# patterns
ax.plot(*unzip(red_pts), color='#e00000', lw=0.8)
ax.plot(*unzip(green_pts), color='#008000', lw=0.8)
ax.plot(*unzip(bg_pts), color='#008000', lw=0.9)
ax.plot(*unzip(sample_pts), color='black', lw=0.9)

# reference sticks
ax.vlines(kaolinite_tt, 0, kaolinite_h, colors='#ee1c1c', lw=1.4)
ax.vlines(illite_tt, 0, illite_h, colors='#2e8b2e', lw=1.4)
ax.vlines(biotite_tt, 0, biotite_h, colors='#0000cc', lw=1.4)

# axes
ax.set_xlim(3.03, 32.41)
ax.set_ylim(0, 1000)
ax.set_xticks(d_to_2theta(d_ticks))
ax.set_xticklabels(d_labels)
ax.set_yticks(np.arange(0, 1001, 100))
ax.set_yticks(np.arange(50, 1000, 100), minor=True)
ax.tick_params(axis='both', labelsize=7.5, width=1, direction='out')
ax.tick_params(axis='y', length=6, pad=6)
ax.tick_params(axis='y', which='minor', length=4)
ax.tick_params(axis='x', length=4, pad=3)
for lab in ax.get_xticklabels() + ax.get_yticklabels():
    lab.set_fontweight('bold')
for side in ['left', 'bottom']:
    ax.spines[side].set_linewidth(1.6)
for side in ['top', 'right']:
    ax.spines[side].set_linewidth(1.0)

fig.text(0.5, 0.977, 'argile sol naturel analyse fraction <2micronsm (Multiple Diagram)',
         ha='center', va='center', fontsize=8.3, fontweight='bold')
fig.text(20 / 1110, 1 - 18 / 513, 'cps', ha='center', va='center', fontsize=7.5,
         fontweight='bold')
fig.text(1090 / 1110, 1 - 506 / 513, 'd (Å)', ha='center', va='center', fontsize=7.5,
         fontweight='bold')

# legends drawn inside the frame, as in the original software export
for i, (label, col) in enumerate(legend_refs):
    yy = 0.984 - i * 0.0235
    ax.plot([0.004, 0.038], [yy, yy], color=col, lw=1, transform=ax.transAxes)
    ax.text(0.046, yy, label, transform=ax.transAxes, fontsize=6.2,
            color='#333333', va='center', ha='left')
for i, (label, col) in enumerate(legend_runs):
    yy = 0.984 - i * 0.0215
    ax.plot([0.964, 0.996], [yy, yy], color=col, lw=1, transform=ax.transAxes)
    ax.text(0.947, yy, label, transform=ax.transAxes, fontsize=6.8,
            color='#333333', va='center', ha='right', fontweight='bold')

# peak labels
big = dict(fontsize=19, fontweight='bold', ha='center', va='center')
ax.text(12.53, 927, 'K', **big)
ax.text(8.69, 696, 'I', **big)
ax.text(8.84, 405, 'I', **big)
ax.text(17.36, 351, 'I', **big)
ax.text(24.78, 843, 'K', **big)
ax.text(26.52, 550, 'Q', **big)
ax.text(27.41, 815, 'I= illite\nK=kaolinite\nQ=quartz', fontsize=16,
        fontweight='bold', ha='left', va='center', linespacing=1.4)

fig.savefig('out.png', dpi=100)
